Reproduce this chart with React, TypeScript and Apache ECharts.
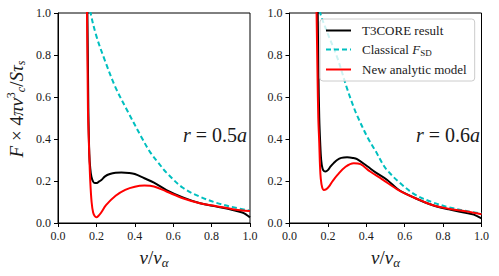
import React, { useEffect, useRef } from 'react';
import * as echarts from 'echarts';

const FONT = 'Times New Roman';

const seriesNames = ['T3CORE result', 'Classical F_SD', 'New analytic model'];
const panelLabels = ['0.5', '0.6'];

// r = 0.5a panel
const leftBlackV = [0.148, 0.153, 0.158, 0.163, 0.168, 0.174, 0.183, 0.192, 0.2, 0.21, 0.226, 0.245, 0.27, 0.3, 0.33, 0.37, 0.4, 0.45, 0.5, 0.565, 0.65, 0.74, 0.826, 0.91, 0.96, 0.98, 1.0];
const leftBlackF = [1.15, 1.0, 0.55, 0.33, 0.26, 0.22, 0.197, 0.19, 0.19, 0.195, 0.205, 0.222, 0.233, 0.239, 0.24, 0.238, 0.233, 0.213, 0.192, 0.157, 0.122, 0.094, 0.078, 0.062, 0.05, 0.04, 0.027];
const leftCyanV = [0.165, 0.17, 0.2, 0.243, 0.3, 0.368, 0.434, 0.478, 0.52, 0.565, 0.65, 0.74, 0.826, 0.9, 1.0];
const leftCyanF = [1.05, 1.0, 0.89, 0.777, 0.645, 0.523, 0.41, 0.34, 0.29, 0.24, 0.168, 0.125, 0.096, 0.078, 0.058];
const leftRedV = [0.146, 0.151, 0.156, 0.162, 0.168, 0.175, 0.183, 0.192, 0.2, 0.21, 0.225, 0.25, 0.3, 0.35, 0.4, 0.45, 0.5, 0.565, 0.65, 0.74, 0.826, 0.91, 1.0];
const leftRedF = [1.15, 1.0, 0.54, 0.35, 0.2, 0.1, 0.05, 0.032, 0.027, 0.033, 0.05, 0.085, 0.13, 0.158, 0.173, 0.178, 0.174, 0.15, 0.118, 0.094, 0.08, 0.066, 0.057];

// r = 0.6a panel
const rightBlackV = [0.145, 0.147, 0.151, 0.155, 0.16, 0.165, 0.172, 0.18, 0.188, 0.2, 0.213, 0.23, 0.248, 0.27, 0.3, 0.33, 0.352, 0.405, 0.45, 0.509, 0.57, 0.656, 0.743, 0.83, 0.916, 0.96, 1.0];
const rightBlackF = [1.15, 1.0, 0.7, 0.5, 0.38, 0.3, 0.26, 0.247, 0.245, 0.252, 0.268, 0.285, 0.3, 0.31, 0.313, 0.31, 0.304, 0.27, 0.24, 0.205, 0.157, 0.118, 0.086, 0.065, 0.049, 0.04, 0.022];
const rightCyanV = [0.152, 0.16, 0.2, 0.248, 0.3, 0.335, 0.353, 0.405, 0.45, 0.483, 0.505, 0.57, 0.656, 0.75, 0.83, 0.916, 1.0];
const rightCyanF = [1.05, 1.0, 0.9, 0.79, 0.64, 0.55, 0.51, 0.41, 0.34, 0.285, 0.255, 0.195, 0.134, 0.097, 0.075, 0.058, 0.045];
const rightRedV = [0.138, 0.141, 0.146, 0.15, 0.155, 0.159, 0.163, 0.17, 0.179, 0.19, 0.205, 0.225, 0.25, 0.292, 0.335, 0.37, 0.42, 0.483, 0.57, 0.656, 0.743, 0.83, 0.916, 1.0];
const rightRedF = [1.15, 1.0, 0.7, 0.5, 0.38, 0.27, 0.21, 0.17, 0.157, 0.16, 0.173, 0.2, 0.229, 0.268, 0.285, 0.28, 0.245, 0.208, 0.155, 0.118, 0.086, 0.068, 0.056, 0.042];

const zip = (a: number[], b: number[]) => a.map((v, i) => [v, b[i]]);

const COLORS = ['#000000', '#00bfbf', '#ff0000'];
const INK = '#1a1a1a';

export default function App() {
  const ref = useRef<HTMLDivElement>(null);
  useEffect(() => {
    const chart = echarts.init(ref.current!, null, { renderer: 'svg' });
    const grids = [58, 289.5].map((left) => ({
      left, top: 13, width: 192, height: 210, show: true, borderColor: '#000', borderWidth: 1,
    }));
    const makeAxis = (g: number) => ({
      type: 'value', min: 0, max: 1, interval: 0.2, gridIndex: g,
      axisLine: { show: true, onZero: false, lineStyle: { color: '#000', width: 1 } },
      axisTick: { show: true, length: 4, lineStyle: { color: '#000', width: 1 } },
      axisLabel: {
        formatter: (v: number) => v.toFixed(1),
        fontFamily: FONT, fontSize: 12, color: INK, margin: 7, showMinLabel: true, showMaxLabel: true,
        textStyle: { fontFamily: FONT },
      },
      splitLine: { show: false },
    });
    const xName = '{i|v}{n|/}{i|v}{s|α}';
    const xAxes = [0, 1].map((g) => ({
      ...makeAxis(g),
      name: xName, nameLocation: 'middle', nameGap: 21,
      nameTextStyle: {
        fontFamily: FONT, fontSize: 19, color: INK, lineHeight: 22,
        rich: {
          i: { fontFamily: FONT, fontStyle: 'italic', fontSize: 19, lineHeight: 22, color: INK },
          n: { fontFamily: FONT, fontSize: 19, lineHeight: 22, color: INK },
          s: { fontFamily: FONT, fontStyle: 'italic', fontSize: 13, lineHeight: 13, verticalAlign: 'bottom', color: INK },
        },
      },
    }));
    const yAxes = [0, 1].map((g) => makeAxis(g));
    const panels = [
      [zip(leftBlackV, leftBlackF), zip(leftCyanV, leftCyanF), zip(leftRedV, leftRedF)],
      [zip(rightBlackV, rightBlackF), zip(rightCyanV, rightCyanF), zip(rightRedV, rightRedF)],
    ];
    const series: any[] = [];
    panels.forEach((p, g) => {
      p.forEach((data, k) => {
        series.push({
          type: 'line', name: seriesNames[k], data, xAxisIndex: g, yAxisIndex: g,
          symbol: 'none', smooth: 0.35, clip: true,
          lineStyle: { color: COLORS[k], width: 2, type: k === 1 ? [5, 3] : 'solid' },
          itemStyle: { color: COLORS[k] },
        });
      });
    });
    const annot = panelLabels.map((r, g) => ({
      type: 'text', x: g === 0 ? 247 : 480, y: 135,
      style: {
        text: `{i|r}{n| = ${r}}{i|a}`, align: 'right', verticalAlign: 'middle',
        fontFamily: FONT, fontSize: 20, fill: INK,
        rich: {
          i: { fontFamily: FONT, fontStyle: 'italic', fontSize: 20, fill: INK },
          n: { fontFamily: FONT, fontSize: 20, fill: INK },
        },
      },
    }));
    const option: any = {
      animation: false,
      backgroundColor: '#fff',
      textStyle: { fontFamily: FONT, color: INK },
      grid: grids,
      xAxis: xAxes,
      yAxis: yAxes,
      series,
      legend: {
        data: seriesNames, orient: 'vertical', left: 320, top: 19,
        itemWidth: 25, itemHeight: 12, itemGap: 6, padding: [5, 8, 5, 5],
        backgroundColor: 'rgba(255,255,255,0.8)', borderColor: '#cccccc', borderWidth: 1, borderRadius: 3,
        itemStyle: { opacity: 0 },
        formatter: (n: string) => (n === 'Classical F_SD' ? '{n|Classical }{i|F}{s|SD}' : `{n|${n}}`),
        textStyle: {
          fontFamily: FONT, fontSize: 13, color: INK, padding: [0, 0, 0, 6],
          rich: {
            n: { fontFamily: FONT, fontSize: 13, color: INK, lineHeight: 15 },
            i: { fontFamily: FONT, fontStyle: 'italic', fontSize: 13, color: INK, lineHeight: 15 },
            s: { fontFamily: FONT, fontSize: 9, color: INK, lineHeight: 9, verticalAlign: 'bottom' },
          },
        },
      },
      graphic: [
        ...annot,
        {
          type: 'text', x: 16, y: 109, rotation: Math.PI / 2,
          style: {
            text: '{i|F}{n| × 4}{i|πv}{p|3}{b|c}{n|/}{i|Sτ}{b|s}', align: 'center', verticalAlign: 'middle',
            fontFamily: FONT, fontSize: 19, fill: INK, lineHeight: 22,
            rich: {
              i: { fontFamily: FONT, fontStyle: 'italic', fontSize: 19, lineHeight: 22, fill: INK },
              n: { fontFamily: FONT, fontSize: 19, lineHeight: 22, fill: INK },
              p: { fontFamily: FONT, fontSize: 12, lineHeight: 12, verticalAlign: 'top', fill: INK },
              b: { fontFamily: FONT, fontStyle: 'italic', fontSize: 12, lineHeight: 12, verticalAlign: 'bottom', fill: INK },
            },
          },
        },
      ],
    };
    chart.setOption(option);
    return () => chart.dispose();
  }, []);
  return (
    <>
      <style>{`#root svg text, #root svg tspan { font-family: "Times New Roman", "Liberation Serif", "DejaVu Serif", serif !important; }`}</style>
      <div ref={ref} style={{ position: 'fixed', left: 0, top: 0, width: 499, height: 276, background: '#fff' }} />
    </>
  );
}
